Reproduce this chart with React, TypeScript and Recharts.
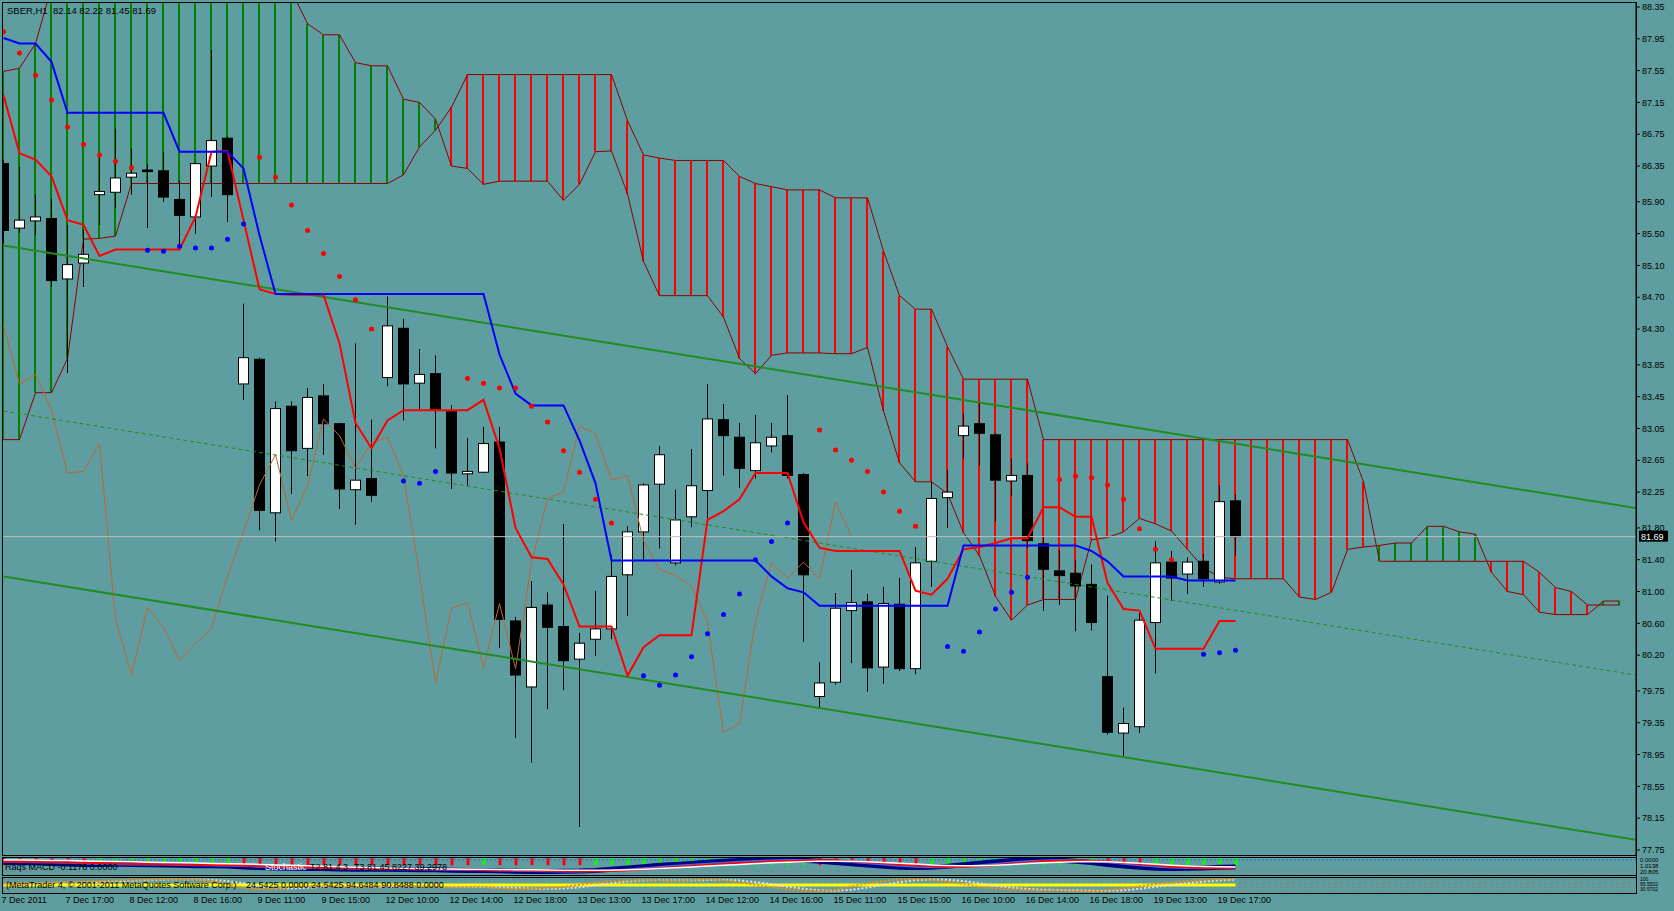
import React from "react";
import {
  ComposedChart,
  Bar,
  Line,
  Scatter,
  XAxis,
  YAxis,
  ReferenceLine,
  Cell,
} from "recharts";

const FONT = "'Liberation Sans', Arial, Helvetica, sans-serif";
const BG = "#5F9EA0";
const WIDTH = 1674;
const AXIS_W = 38;
const X_DOMAIN: [number, number] = [-0.094, 102.03];
const PRICE_DOMAIN: [number, number] = [77.687, 88.4];
const CHIKOU_SHIFT = 24;

const symbol = "SBER,H1";

const timeTickBars = [0, 4, 8, 12, 16, 20, 24, 28, 32, 36, 40, 44, 48, 52, 56, 60, 64, 68, 72, 76];
const timeLabels = [
  "7 Dec 2011", "7 Dec 17:00", "8 Dec 12:00", "8 Dec 16:00", "9 Dec 11:00",
  "9 Dec 15:00", "12 Dec 10:00", "12 Dec 14:00", "12 Dec 18:00", "13 Dec 13:00",
  "13 Dec 17:00", "14 Dec 12:00", "14 Dec 16:00", "15 Dec 11:00", "15 Dec 15:00",
  "16 Dec 10:00", "16 Dec 14:00", "16 Dec 18:00", "19 Dec 13:00", "19 Dec 17:00",
];

const priceTicks = [
  88.35, 87.95, 87.55, 87.15, 86.75, 86.35, 85.9, 85.5, 85.1, 84.7, 84.3, 83.85, 83.45,
  83.05, 82.65, 82.25, 81.8, 81.4, 81.0, 80.6, 80.2, 79.75, 79.35, 78.95, 78.55, 78.15, 77.75,
];

// hourly SBER candles
const opens = [
  86.38, 85.57, 85.66, 85.69, 84.93, 85.13, 85.99, 86.02, 86.21, 86.30,
  86.29, 85.93, 85.71, 86.35, 86.70, 83.61, 83.92, 81.99, 83.33, 82.80,
  83.46, 83.11, 82.28, 82.42, 83.69, 84.31, 83.62, 83.74, 83.26, 82.48,
  82.50, 82.88, 80.63, 79.80, 80.83, 80.56, 80.15, 80.40, 80.53, 81.21,
  81.75, 82.35, 81.36, 81.94, 82.27, 83.16, 82.94, 82.52, 82.83, 82.96,
  82.47, 79.68, 79.86, 80.76, 80.87, 80.05, 80.84, 80.03, 81.38, 82.18,
  82.96, 83.11, 82.97, 82.39, 82.46, 81.60, 81.26, 81.23, 81.09, 79.93,
  79.22, 79.30, 80.61, 81.37, 81.22, 81.38, 81.12, 82.14,
];
const highs = [
  86.42, 86.34, 85.99, 85.94, 85.61, 85.55, 86.47, 86.82, 86.57, 86.38,
  86.53, 86.17, 86.40, 87.81, 86.72, 84.62, 83.94, 83.39, 83.39, 83.56,
  83.61, 83.12, 84.12, 83.16, 84.71, 84.43, 84.05, 83.97, 83.34, 82.93,
  83.07, 83.07, 80.68, 81.13, 80.99, 81.85, 80.48, 81.01, 81.46, 81.82,
  82.36, 82.83, 82.28, 82.79, 83.61, 83.36, 83.12, 83.22, 83.12, 83.47,
  82.49, 80.11, 80.98, 81.27, 80.97, 81.06, 81.17, 81.56, 82.38, 82.53,
  83.24, 83.37, 82.99, 82.67, 82.61, 81.70, 81.52, 81.40, 81.34, 80.95,
  79.54, 80.73, 81.63, 81.51, 81.43, 81.47, 82.34, 82.22,
];
const lows = [
  85.38, 85.51, 85.48, 84.83, 83.75, 84.83, 85.61, 85.82, 85.99, 85.57,
  85.90, 85.29, 85.50, 85.96, 85.65, 83.41, 81.77, 81.63, 82.23, 82.45,
  82.72, 82.04, 81.84, 82.13, 83.58, 83.15, 83.27, 82.80, 82.29, 82.33,
  82.49, 80.29, 79.16, 78.85, 79.52, 79.76, 78.04, 80.19, 80.40, 80.69,
  81.39, 81.54, 81.33, 81.81, 81.92, 82.46, 82.30, 82.42, 82.75, 82.42,
  80.37, 79.54, 79.83, 80.10, 79.74, 79.84, 80.00, 79.96, 81.06, 81.80,
  82.67, 82.58, 81.88, 82.20, 81.55, 80.76, 80.83, 80.50, 80.51, 79.20,
  78.92, 79.22, 79.97, 80.88, 80.97, 81.06, 81.10, 81.45,
];
const closes = [
  85.54, 85.67, 85.71, 84.91, 85.11, 85.24, 86.03, 86.20, 86.26, 86.28,
  85.96, 85.73, 86.38, 86.67, 85.99, 83.94, 82.02, 83.30, 82.77, 83.44,
  83.11, 82.29, 82.40, 82.21, 84.34, 83.61, 83.73, 83.28, 82.49, 82.51,
  82.86, 80.65, 79.95, 80.80, 80.55, 80.13, 80.35, 80.53, 81.19, 81.75,
  82.34, 82.72, 81.90, 82.33, 83.17, 82.96, 82.55, 82.87, 82.94, 82.46,
  81.21, 79.85, 80.79, 80.86, 80.04, 80.85, 80.03, 81.36, 82.17, 82.25,
  83.08, 82.99, 82.40, 82.46, 81.64, 81.28, 81.20, 81.07, 80.61, 79.23,
  79.34, 80.64, 81.36, 81.17, 81.37, 81.16, 82.13, 81.69,
];

// Ichimoku
const tenkan = [
  87.24, 86.51, 86.43, 86.22, 85.67, 85.61, 85.22, 85.30, 85.30, 85.30,
  85.30, 85.30, 85.71, 86.53, 86.54, 85.67, 84.80, 84.74, 84.73, 84.73,
  84.73, 84.12, 83.12, 82.80, 83.15, 83.28, 83.28, 83.28, 83.28, 83.28,
  83.41, 82.80, 81.80, 81.43, 81.41, 81.09, 80.56, 80.56, 80.56, 79.94,
  80.30, 80.45, 80.45, 80.45, 81.90, 82.01, 82.16, 82.49, 82.49, 82.49,
  81.87, 81.55, 81.51, 81.51, 81.51, 81.51, 81.51, 81.01, 80.96, 81.16,
  81.53, 81.56, 81.61, 81.67, 81.67, 82.06, 82.06, 81.94, 81.94, 81.11,
  80.78, 80.76, 80.28, 80.28, 80.28, 80.28, 80.63, 80.63,
];
const kijun = [
  87.96, 87.89, 87.89, 87.66, 87.02, 87.02, 87.02, 87.02, 87.02, 87.02,
  87.02, 86.53, 86.53, 86.53, 86.53, 86.32, 85.48, 84.74, 84.74, 84.74,
  84.74, 84.74, 84.74, 84.74, 84.74, 84.74, 84.74, 84.74, 84.74, 84.74,
  84.74, 83.98, 83.49, 83.34, 83.34, 83.34, 82.90, 82.36, 81.39, 81.39,
  81.39, 81.39, 81.39, 81.39, 81.39, 81.39, 81.39, 81.39, 81.19, 81.04,
  80.99, 80.82, 80.82, 80.82, 80.82, 80.82, 80.82, 80.82, 80.82, 80.82,
  81.58, 81.58, 81.58, 81.58, 81.58, 81.58, 81.58, 81.58, 81.51, 81.38,
  81.19, 81.19, 81.19, 81.19, 81.14, 81.14, 81.14, 81.14,
];
const spanA = [
  87.54, 87.58, 87.89, 88.60, 88.90, 88.90, 88.90, 88.90, 88.90, 88.90,
  88.90, 88.90, 88.90, 88.90, 88.90, 88.90, 88.90, 88.90, 88.55, 88.14,
  88.00, 88.00, 87.65, 87.61, 87.61, 87.19, 87.15, 86.94, 86.35, 86.32,
  86.12, 86.16, 86.16, 86.16, 86.16, 85.92, 86.12, 86.53, 86.54, 86.00,
  85.15, 84.72, 84.72, 84.72, 84.72, 84.45, 83.93, 83.74, 83.97, 84.00,
  84.00, 84.00, 83.99, 83.99, 84.07, 83.27, 82.62, 82.38, 82.38, 82.23,
  81.74, 81.45, 80.94, 80.64, 80.83, 80.90, 80.90, 80.90, 81.65, 81.68,
  81.75, 81.92, 81.85, 81.76, 81.53, 81.30, 81.18, 81.16, 81.16, 81.16,
  81.16, 80.93, 80.90, 80.99, 81.53, 81.56, 81.58, 81.61, 81.61, 81.82,
  81.82, 81.75, 81.72, 81.24, 81.00, 80.96, 80.74, 80.71, 80.71, 80.71,
  80.88, 80.88,
];
const spanB = [
  82.91, 82.91, 83.50, 83.50, 83.93, 85.43, 85.44, 85.47, 86.13, 86.13,
  86.13, 86.13, 86.13, 86.13, 86.13, 86.13, 86.13, 86.13, 86.13, 86.13,
  86.13, 86.13, 86.13, 86.13, 86.13, 86.24, 86.59, 86.80, 87.09, 87.50,
  87.50, 87.50, 87.50, 87.50, 87.50, 87.50, 87.50, 87.50, 87.50, 86.92,
  86.49, 86.45, 86.42, 86.42, 86.42, 86.42, 86.22, 86.13, 86.09, 86.05,
  86.05, 86.05, 85.95, 85.95, 85.95, 85.28, 84.72, 84.55, 84.55, 84.08,
  83.67, 83.67, 83.67, 83.67, 83.67, 82.91, 82.91, 82.91, 82.91, 82.91,
  82.91, 82.91, 82.91, 82.91, 82.91, 82.91, 82.91, 82.91, 82.91, 82.91,
  82.91, 82.91, 82.91, 82.91, 82.91, 82.38, 81.38, 81.38, 81.38, 81.38,
  81.38, 81.38, 81.38, 81.38, 81.38, 81.38, 81.24, 81.05, 81.00, 80.83,
  80.83, 80.83,
];

// Parabolic SAR
const sarAbove = [
  88.04, 87.77, 87.49, 87.18, 86.84, 86.62, 86.49, 86.41, 86.33, null,
  null, null, null, null, null, null, 86.46, 86.21, 85.86, 85.54,
  85.25, 84.96, 84.67, 84.30, null, null, null, null, null, 83.68,
  83.62, 83.56, 83.56, 83.33, 83.13, 82.77, 82.50, 82.16, 81.86, null,
  null, null, null, null, null, null, null, null, null, null,
  null, 83.03, 82.78, 82.65, 82.51, 82.25, 82.01, 81.82, null, null,
  null, null, null, null, null, null, 82.41, 82.45, 82.43, 82.34,
  82.16, 81.79, 81.53, 81.40, null, null, null, null,
];
const sarBelow = [
  null, null, null, null, null, null, null, null, null, 85.29,
  85.28, 85.34, 85.32, 85.32, 85.43, 85.62, null, null, null, null,
  null, null, null, null, null, 82.39, 82.36, 82.51, null, null,
  null, null, null, null, null, null, null, null, null, null,
  79.94, 79.82, 79.95, 80.18, 80.47, 80.71, 80.97, 81.40, 81.63, 81.86,
  null, null, null, null, null, null, null, null, null, 80.31,
  80.25, 80.49, 80.78, 80.99, 81.18, null, null, null, null, null,
  null, null, null, null, null, 80.21, 80.23, 80.26,
];

// price channel (bar, price) at both ends
const channelBars = [0, 102];
const channelUpper = [85.35, 82.05];
const channelMiddle = [83.27, 79.95];
const channelLower = [81.19, 77.88];

// oscillator window (0..1 scale)
const macdMain = [
  0.74, 0.72, 0.70, 0.66, 0.62, 0.60, 0.60, 0.62, 0.60, 0.58,
  0.56, 0.54, 0.52, 0.52, 0.50, 0.44, 0.40, 0.38, 0.36, 0.35,
  0.34, 0.32, 0.30, 0.30, 0.30, 0.28, 0.27, 0.26, 0.24, 0.22,
  0.22, 0.20, 0.17, 0.16, 0.16, 0.17, 0.18, 0.22, 0.30, 0.38,
  0.46, 0.54, 0.60, 0.66, 0.74, 0.80, 0.84, 0.87, 0.88, 0.88,
  0.86, 0.80, 0.72, 0.64, 0.56, 0.48, 0.42, 0.40, 0.42, 0.48,
  0.58, 0.68, 0.76, 0.84, 0.88, 0.88, 0.86, 0.80, 0.72, 0.60,
  0.50, 0.42, 0.36, 0.34, 0.36, 0.38, 0.42, 0.44,
];
const macdSignal = [
  0.76, 0.75, 0.74, 0.72, 0.70, 0.66, 0.63, 0.61, 0.60, 0.60,
  0.59, 0.57, 0.55, 0.53, 0.52, 0.50, 0.46, 0.42, 0.39, 0.37,
  0.36, 0.35, 0.33, 0.31, 0.30, 0.30, 0.29, 0.28, 0.27, 0.25,
  0.23, 0.22, 0.21, 0.19, 0.17, 0.16, 0.16, 0.18, 0.22, 0.28,
  0.36, 0.44, 0.51, 0.58, 0.64, 0.70, 0.76, 0.81, 0.85, 0.87,
  0.88, 0.86, 0.81, 0.75, 0.67, 0.59, 0.52, 0.46, 0.42, 0.42,
  0.46, 0.54, 0.63, 0.72, 0.80, 0.85, 0.87, 0.86, 0.81, 0.74,
  0.64, 0.55, 0.47, 0.40, 0.37, 0.36, 0.38, 0.40,
];
const macdSlow = [
  0.78, 0.77, 0.76, 0.75, 0.73, 0.71, 0.68, 0.65, 0.63, 0.62,
  0.61, 0.60, 0.58, 0.56, 0.54, 0.53, 0.50, 0.47, 0.44, 0.41,
  0.39, 0.37, 0.36, 0.34, 0.32, 0.31, 0.30, 0.30, 0.29, 0.28,
  0.26, 0.24, 0.23, 0.22, 0.20, 0.18, 0.17, 0.17, 0.19, 0.23,
  0.29, 0.36, 0.43, 0.50, 0.56, 0.62, 0.68, 0.73, 0.78, 0.82,
  0.85, 0.86, 0.84, 0.80, 0.74, 0.67, 0.60, 0.53, 0.48, 0.45,
  0.45, 0.49, 0.56, 0.64, 0.72, 0.79, 0.83, 0.85, 0.83, 0.78,
  0.70, 0.62, 0.54, 0.46, 0.41, 0.38, 0.38, 0.39,
];
const macdTrend = [
  0.88, 0.87, 0.86, 0.85, 0.84, 0.82, 0.80, 0.78, 0.76, 0.74,
  0.72, 0.70, 0.68, 0.66, 0.64, 0.62, 0.60, 0.57, 0.54, 0.51,
  0.48, 0.45, 0.42, 0.40, 0.38, 0.36, 0.34, 0.32, 0.31, 0.30,
  0.29, 0.28, 0.27, 0.26, 0.25, 0.24, 0.23, 0.23, 0.24, 0.26,
  0.30, 0.34, 0.39, 0.44, 0.50, 0.55, 0.60, 0.65, 0.70, 0.74,
  0.77, 0.79, 0.80, 0.79, 0.76, 0.72, 0.67, 0.62, 0.57, 0.53,
  0.51, 0.52, 0.55, 0.60, 0.65, 0.70, 0.74, 0.77, 0.78, 0.76,
  0.72, 0.67, 0.61, 0.55, 0.50, 0.47, 0.45, 0.44,
];
const macdHist = [
  -0.45, -0.42, -0.44, -0.45, -0.43, -0.44, 0.44, 0.46, 0.45, 0.43,
  0.45, 0.44, 0.46, 0.45, 0.44, -0.46, -0.45, -0.44, -0.46, -0.45,
  -0.43, -0.45, -0.46, -0.44, -0.45, -0.46, -0.44, -0.45, -0.46, -0.45,
  0.44, -0.45, -0.46, -0.44, -0.45, -0.46, -0.45, 0.45, 0.44, 0.46,
  0.45, 0.44, 0.45, 0.46, 0.45, 0.44, 0.45, 0.46, 0.44, 0.45,
  0.45, -0.45, -0.44, -0.46, -0.45, -0.44, -0.45, -0.46, 0.45, 0.44,
  0.46, 0.45, 0.44, 0.45, 0.46, 0.45, 0.44, 0.45, 0.46, -0.45,
  -0.44, -0.46, 0.45, 0.44, 0.46, 0.45, 0.44, 0.45,
];
const macdLevels = [0.88, 0.19];

// stochastic window (0..100)
const stochMain = [
  60, 65, 62, 70, 72, 75, 80, 85, 88, 90,
  93, 92, 88, 80, 60, 35, 25, 30, 40, 45,
  50, 45, 40, 42, 50, 48, 45, 40, 38, 40,
  42, 30, 25, 28, 35, 40, 55, 70, 80, 85,
  88, 85, 82, 88, 92, 85, 70, 55, 40, 25,
  15, 12, 20, 45, 65, 80, 90, 92, 88, 75,
  60, 40, 30, 25, 20, 18, 20, 15, 12, 18,
  30, 45, 60, 70, 80, 88, 92, 90,
];
const stochSignal = [
  58, 60, 62, 64, 66, 70, 74, 78, 82, 86,
  89, 91, 90, 87, 80, 65, 45, 32, 30, 35,
  42, 46, 46, 43, 42, 45, 47, 45, 42, 40,
  40, 38, 34, 30, 28, 30, 38, 50, 65, 77,
  84, 86, 85, 84, 86, 88, 84, 72, 58, 42,
  28, 18, 15, 22, 36, 55, 72, 85, 90, 88,
  80, 65, 48, 35, 27, 22, 20, 18, 16, 15,
  18, 28, 42, 55, 66, 76, 84, 88,
];
const stochBase = 54;
const stochLevels = [89, 64, 39, 14];

const lastIdx = closes.length - 1;

const candleRows = opens.map((open, i) => ({
  i,
  open,
  high: highs[i],
  low: lows[i],
  close: closes[i],
  hl: [lows[i], highs[i]],
  tenkan: tenkan[i],
  kijun: kijun[i],
  chikou: i + CHIKOU_SHIFT < closes.length ? closes[i + CHIKOU_SHIFT] : null,
}));

const cloudRows = spanA.map((a, i) => ({
  i,
  a,
  b: spanB[i],
  band: [Math.min(a, spanB[i]), Math.max(a, spanB[i])],
}));

const sarAbovePts = sarAbove
  .map((v, i) => (v == null ? null : { i, v }))
  .filter((p) => p !== null);
const sarBelowPts = sarBelow
  .map((v, i) => (v == null ? null : { i, v }))
  .filter((p) => p !== null);

const oscRows = macdMain.map((m, i) => ({
  i,
  main: m,
  signal: macdSignal[i],
  slow: macdSlow[i],
  trend: macdTrend[i],
  hist: macdHist[i],
  histAbs: Math.abs(macdHist[i]),
}));

const stochRows = stochMain.map((s, i) => ({ i, main: s, signal: stochSignal[i] }));

function Candle(props: any) {
  const { x, y, width, height, payload } = props;
  if (!payload || !(height > 0)) return null;
  const { open, close, high, low } = payload;
  const cx = Math.floor(x + width / 2) + 0.5;
  const k = height / (high - low);
  const py = (v: number) => y + (high - v) * k;
  const top = py(Math.max(open, close));
  const bottom = py(Math.min(open, close));
  const bull = close > open;
  return (
    <g>
      <line x1={cx} x2={cx} y1={y} y2={y + height} stroke="#000" strokeWidth={1} />
      <rect
        x={cx - 5}
        y={top}
        width={10}
        height={Math.max(bottom - top, 1)}
        fill={bull ? "#FFFFFF" : "#000000"}
        stroke="#000"
        strokeWidth={1}
      />
    </g>
  );
}

function Hatch(props: any) {
  const { x, y, width, height, payload } = props;
  if (!payload || !(height > 0)) return null;
  const cx = Math.floor(x + width / 2);
  return (
    <rect
      x={cx - 1}
      y={y}
      width={2}
      height={height}
      fill={payload.a >= payload.b ? "#008000" : "#FF0000"}
    />
  );
}

const sarDot = (color: string) => (p: any) =>
  <circle cx={p.cx} cy={p.cy} r={2.5} fill={color} />;

function PriceTag({ viewBox, text }: any) {
  if (!viewBox) return null;
  const x = viewBox.x + viewBox.width + 3;
  const y = viewBox.y;
  return (
    <g>
      <rect x={x} y={y - 6} width={29} height={11} fill="#000" />
      <text x={x + 2} y={y + 3} fill="#FFF" fontSize={9} fontFamily={FONT}>
        {text}
      </text>
    </g>
  );
}

function TimeTick(props: any) {
  const { x, y, payload } = props;
  const idx = timeTickBars.indexOf(payload.value);
  return (
    <text x={x - 2} y={y + 10} fill="#000" fontSize={9} fontFamily={FONT} textAnchor="start">
      {timeLabels[idx]}
    </text>
  );
}

function CloudChart() {
  return (
    <ComposedChart
      width={WIDTH}
      height={860}
      data={cloudRows}
      margin={{ top: 3, right: 0, bottom: 5, left: 2 }}
    >
      <XAxis dataKey="i" type="number" domain={X_DOMAIN} allowDataOverflow hide />
      <YAxis
        orientation="right"
        width={AXIS_W}
        domain={PRICE_DOMAIN}
        allowDataOverflow
        tick={false}
        axisLine={false}
        tickLine={false}
      />
      <Bar dataKey="band" shape={<Hatch />} barSize={2} isAnimationActive={false} />
      <Line dataKey="a" stroke="#8B0000" strokeWidth={1} dot={false} isAnimationActive={false} />
      <Line dataKey="b" stroke="#8B0000" strokeWidth={1} dot={false} isAnimationActive={false} />
    </ComposedChart>
  );
}

function PriceChart() {
  const last = closes[lastIdx];
  return (
    <ComposedChart
      width={WIDTH}
      height={860}
      data={candleRows}
      margin={{ top: 3, right: 0, bottom: 5, left: 2 }}
    >
      <XAxis dataKey="i" type="number" domain={X_DOMAIN} allowDataOverflow hide />
      <YAxis
        orientation="right"
        width={AXIS_W}
        domain={PRICE_DOMAIN}
        allowDataOverflow
        ticks={priceTicks}
        interval={0}
        tickSize={4}
        tickMargin={2}
        axisLine={{ stroke: "#000" }}
        tickLine={{ stroke: "#000" }}
        tick={{ fill: "#000", fontSize: 9, fontFamily: FONT }}
        tickFormatter={(v: number) => v.toFixed(2)}
      />
      <Line dataKey="chikou" stroke="#C0652F" strokeWidth={1} dot={false} isAnimationActive={false} />
      <ReferenceLine
        segment={[
          { x: channelBars[0], y: channelUpper[0] },
          { x: channelBars[1], y: channelUpper[1] },
        ]}
        stroke="#228B22"
        strokeWidth={2}
      />
      <ReferenceLine
        segment={[
          { x: channelBars[0], y: channelLower[0] },
          { x: channelBars[1], y: channelLower[1] },
        ]}
        stroke="#228B22"
        strokeWidth={2}
      />
      <ReferenceLine
        segment={[
          { x: channelBars[0], y: channelMiddle[0] },
          { x: channelBars[1], y: channelMiddle[1] },
        ]}
        stroke="#228B22"
        strokeWidth={1}
        strokeDasharray="4 3"
      />
      <ReferenceLine
        y={last}
        stroke="#C0C0C0"
        strokeWidth={1}
        label={(p: any) => <PriceTag viewBox={p.viewBox} text={last.toFixed(2)} />}
      />
      <Bar dataKey="hl" shape={<Candle />} barSize={10} isAnimationActive={false} />
      <Line dataKey="tenkan" stroke="#FF0000" strokeWidth={2} dot={false} isAnimationActive={false} />
      <Line dataKey="kijun" stroke="#0000FF" strokeWidth={2} dot={false} isAnimationActive={false} />
      <Scatter data={sarAbovePts} dataKey="v" shape={sarDot("#FF0000")} isAnimationActive={false} />
      <Scatter data={sarBelowPts} dataKey="v" shape={sarDot("#0000FF")} isAnimationActive={false} />
    </ComposedChart>
  );
}

function OscillatorPanel() {
  return (
    <ComposedChart
      width={WIDTH}
      height={16}
      data={oscRows}
      margin={{ top: 0, right: AXIS_W, bottom: 0, left: 2 }}
    >
      <XAxis dataKey="i" type="number" domain={X_DOMAIN} allowDataOverflow hide />
      <YAxis yAxisId="m" domain={[0, 1]} hide />
      <YAxis yAxisId="h" domain={[0, 1]} reversed hide />
      {macdLevels.map((lv, k) => (
        <ReferenceLine
          key={lv}
          yAxisId="m"
          y={lv}
          stroke={k === 0 ? "#4169E1" : "#808080"}
          strokeDasharray="2 2"
        />
      ))}
      <Bar yAxisId="h" dataKey="histAbs" barSize={3} isAnimationActive={false}>
        {oscRows.map((r) => (
          <Cell key={r.i} fill={r.hist >= 0 ? "#00FF00" : "#FF0000"} />
        ))}
      </Bar>
      <Line yAxisId="m" dataKey="main" stroke="#000080" strokeWidth={5} dot={false} isAnimationActive={false} />
      <Line yAxisId="m" dataKey="signal" stroke="#4169E1" strokeWidth={2} dot={false} isAnimationActive={false} />
      <Line yAxisId="m" dataKey="slow" stroke="#FF0000" strokeWidth={2} dot={false} isAnimationActive={false} />
      <Line yAxisId="m" dataKey="trend" stroke="#FFFFFF" strokeWidth={1.5} dot={false} isAnimationActive={false} />
    </ComposedChart>
  );
}

function StochasticPanel() {
  return (
    <ComposedChart
      width={WIDTH}
      height={32}
      data={stochRows}
      margin={{ top: 0, right: AXIS_W, bottom: 0, left: 2 }}
    >
      <XAxis
        dataKey="i"
        type="number"
        domain={X_DOMAIN}
        allowDataOverflow
        ticks={timeTickBars}
        interval={0}
        height={17}
        axisLine={false}
        tickLine={false}
        tickSize={0}
        tickMargin={0}
        tick={<TimeTick />}
      />
      <YAxis domain={[0, 100]} hide />
      {stochLevels.map((lv) => (
        <ReferenceLine key={lv} y={lv} stroke="#808080" strokeDasharray="3 3" />
      ))}
      <ReferenceLine
        segment={[
          { x: 0, y: stochBase },
          { x: lastIdx, y: stochBase },
        ]}
        stroke="#FFFF00"
        strokeWidth={3}
      />
      <Line dataKey="signal" stroke="#E0E0E0" strokeWidth={2} strokeDasharray="2 2" dot={false} isAnimationActive={false} />
      <Line dataKey="main" stroke="#FF8C00" strokeWidth={2} strokeDasharray="2 2" dot={false} isAnimationActive={false} />
    </ComposedChart>
  );
}

const Txt = ({ x, y, children, color = "#000", size = 9 }: any) => (
  <div
    style={{
      position: "absolute",
      left: x,
      top: y,
      fontSize: size,
      lineHeight: 1,
      color,
      whiteSpace: "pre",
      fontFamily: FONT,
      pointerEvents: "none",
    }}
  >
    {children}
  </div>
);

const Frame = ({ top, height }: any) => (
  <div
    style={{
      position: "absolute",
      left: 2,
      top,
      width: 1635,
      height,
      border: "1px solid #000",
      boxSizing: "border-box",
      pointerEvents: "none",
    }}
  />
);

export default function App() {
  const ohlc = [opens[lastIdx], highs[lastIdx], lows[lastIdx], closes[lastIdx]]
    .map((v) => v.toFixed(2))
    .join(" ");
  return (
    <div
      style={{
        position: "absolute",
        left: 0,
        top: 0,
        width: WIDTH,
        height: 911,
        background: BG,
        overflow: "hidden",
        fontFamily: FONT,
      }}
    >
      <div style={{ position: "absolute", left: 0, top: 0 }}>
        <CloudChart />
      </div>
      <div style={{ position: "absolute", left: 0, top: 0 }}>
        <PriceChart />
      </div>
      <div style={{ position: "absolute", left: 0, top: 858 }}>
        <OscillatorPanel />
      </div>
      <div style={{ position: "absolute", left: 0, top: 878 }}>
        <StochasticPanel />
      </div>

      <Frame top={2} height={854} />
      <Frame top={857} height={19} />
      <Frame top={877} height={17} />
      <div style={{ position: "absolute", left: 1636, top: 855, width: 1, height: 39, background: "#000" }} />

      <Txt x={7} y={6} size={9.5}>{`${symbol}  ${ohlc}`}</Txt>

      <Txt x={5} y={863}>Raqs MACD -0.1176 0.0000</Txt>
      <Txt x={265} y={863} color="#FFFFFF">Stochastic</Txt>
      <Txt x={310} y={863}>T2 81.4 3</Txt>
      <Txt x={354} y={863}>T3 81.45 8227 39.2978</Txt>
      <Txt x={6} y={881}>(MetaTrader 4, © 2001-2011 MetaQuotes Software Corp.)</Txt>
      <Txt x={246} y={881}>24.5425 0.0000 24.5425 94.6484 90.8488 0.0000</Txt>

      <Txt x={1640} y={857} size={6}>0.0000</Txt>
      <Txt x={1640} y={863} size={6}>1.0138</Txt>
      <Txt x={1640} y={869} size={6}>20.805</Txt>
      <Txt x={1640} y={877} size={5}>100</Txt>
      <Txt x={1640} y={882} size={5}>95.5502</Txt>
      <Txt x={1640} y={887} size={5}>30.5702</Txt>
    </div>
  );
}
